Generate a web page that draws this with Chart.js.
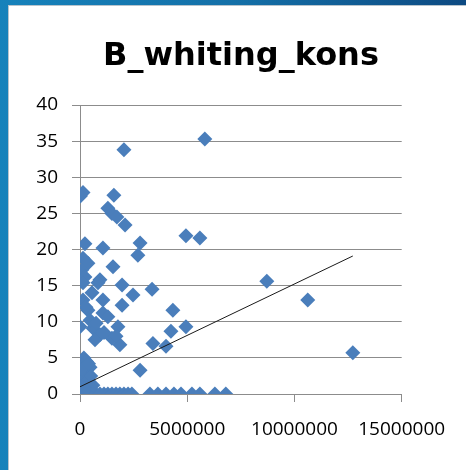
<!DOCTYPE html>
<html>
<head>
<meta charset="utf-8">
<script src="https://cdn.jsdelivr.net/npm/chart.js@4/dist/chart.umd.min.js"></script>
<style>
    html, body { margin: 0; padding: 0; }
    body {
        width: 466px; height: 470px; overflow: hidden; position: relative;
        background: linear-gradient(to right, #1682bb 0%, #1470a8 50%, #0d4a82 100%);
    }
    #frame {
        position: absolute; left: 8px; top: 5px; right: 0; bottom: 0;
        background: #fff; border-left: 1px solid #b8c4cc; border-top: 1px solid #b8c4cc;
    }
    #chart { position: absolute; left: 0; top: 0; }
</style>
</head>
<body>
<div id="frame"><canvas id="chart" width="457" height="464"></canvas></div>
<script>
// Scatter values (x, y pairs)
const xValues = [
    0, 60000, 190000, 370000, 560000, 750000, 930000, 1120000, 1300000, 1490000,
    1680000, 1860000, 2050000, 2240000, 2420000, 3260000, 3630000, 4010000, 4380000,
    4710000, 5220000, 5590000, 6290000, 6800000,
    5820000, 2050000, 140000, 20000, 1580000, 1300000, 1490000, 1720000, 2100000,
    4940000, 5590000, 230000, 1070000, 2800000, 2700000, 140000, 370000, 1540000,
    90000, 230000, 930000, 1960000, 3360000, 8710000, 10620000, 12720000,
    140000, 840000, 140000, 1070000, 1960000, 2470000, 370000, 1070000, 1300000,
    4330000, 0, 610000, 1770000, 4940000, 4240000, 930000, 700000, 1490000,
    1860000, 3400000, 4010000, 140000, 0, 470000, 90000, 230000, 2800000,
    470000, 280000, 560000, 1120000, 750000, 280000, 180000, 60000, 1680000,
    300000, 500000, 100000, 600000, 200000, 400000
];
const yValues = [
    0, 0, 0, 0, 0, 0, 0, 0, 0, 0,
    0, 0, 0, 0, 0, 0, 0, 0, 0,
    0, 0, 0, 0, 0,
    35.3, 33.8, 27.9, 27.4, 27.5, 25.7, 25.0, 24.5, 23.4,
    21.9, 21.6, 20.8, 20.2, 20.9, 19.2, 18.8, 18.1, 17.6,
    17.2, 16.2, 15.8, 15.1, 14.5, 15.6, 13.0, 5.7,
    15.4, 15.4, 13.0, 13.0, 12.3, 13.7, 11.6, 11.2, 10.7,
    11.6, 9.3, 9.1, 9.3, 9.3, 8.7, 8.2, 7.5, 7.7,
    6.8, 7.0, 6.6, 4.7, 4.0, 3.7, 2.9, 2.2, 3.3,
    10.2, 12.0, 14.0, 8.5, 9.8, 1.5, 5.0, 1.0, 8.0,
    4.5, 2.5, 3.5, 1.2, 0.8, 4.2
];

// Linear trendline end points
const trendX = [0, 12720000];
const trendY = [1.0, 19.1];

// Axis ranges and title
const xTicks = [0, 5000000, 10000000, 15000000];
const yTicks = [0, 5, 10, 15, 20, 25, 30, 35, 40];
const chartTitle = "B_whiting_kons";

document.addEventListener("DOMContentLoaded", function () {
    const gridColor = "#8c8c8c";
    const tickFont = { family: "'Open Sans', 'Noto Sans', sans-serif", size: 19 };

    const points = xValues.map((x, i) => ({ x: x, y: yValues[i] }));
    const trend = trendX.map((x, i) => ({ x: x, y: trendY[i] }));

    const ctx = document.getElementById("chart").getContext("2d");
    new Chart(ctx, {
        type: "scatter",
        data: {
            datasets: [
                {
                    data: points,
                    pointStyle: "rectRot",
                    pointRadius: 7.5,
                    backgroundColor: "#4a7ebb",
                    borderColor: "#4a7ebb",
                    borderWidth: 0,
                    order: 2
                },
                {
                    type: "line",
                    data: trend,
                    borderColor: "#1a1a1a",
                    borderWidth: 1,
                    pointRadius: 0,
                    fill: false,
                    order: 1
                }
            ]
        },
        options: {
            responsive: false,
            animation: false,
            layout: { padding: { left: 7, right: 0, top: 0, bottom: 0 } },
            plugins: {
                legend: { display: false },
                tooltip: { enabled: false },
                title: {
                    display: true,
                    text: chartTitle,
                    color: "#000",
                    font: { family: "'DejaVu Sans', sans-serif", size: 32, weight: "bold" },
                    padding: { top: 31, bottom: 29.6 }
                }
            },
            scales: {
                x: {
                    type: "linear",
                    min: xTicks[0],
                    max: xTicks[xTicks.length - 1],
                    afterBuildTicks: (scale) => { scale.ticks = xTicks.map(v => ({ value: v })); },
                    afterFit: (scale) => { scale.height = 76; },
                    border: { display: true, color: gridColor, width: 1 },
                    grid: { drawOnChartArea: false, drawTicks: true, tickLength: 8, color: gridColor },
                    ticks: {
                        color: "#000",
                        font: tickFont,
                        padding: 16,
                        maxRotation: 0,
                        callback: (v) => String(v)
                    }
                },
                y: {
                    min: yTicks[0],
                    max: yTicks[yTicks.length - 1],
                    afterBuildTicks: (scale) => { scale.ticks = yTicks.map(v => ({ value: v })); },
                    afterFit: (scale) => { scale.width = 64; },
                    border: { display: true, color: gridColor, width: 1 },
                    grid: { drawOnChartArea: true, drawTicks: true, tickLength: 8, color: gridColor },
                    ticks: {
                        color: "#000",
                        font: tickFont,
                        padding: 14
                    }
                },
                // empty right-hand box, keeps the plot narrow while the title stays centred
                spacer: {
                    type: "linear",
                    position: "right",
                    afterFit: (scale) => { scale.width = 64.3; },
                    border: { display: false },
                    grid: { display: false },
                    ticks: { display: false }
                }
            }
        }
    });
});
</script>
</body>
</html>
